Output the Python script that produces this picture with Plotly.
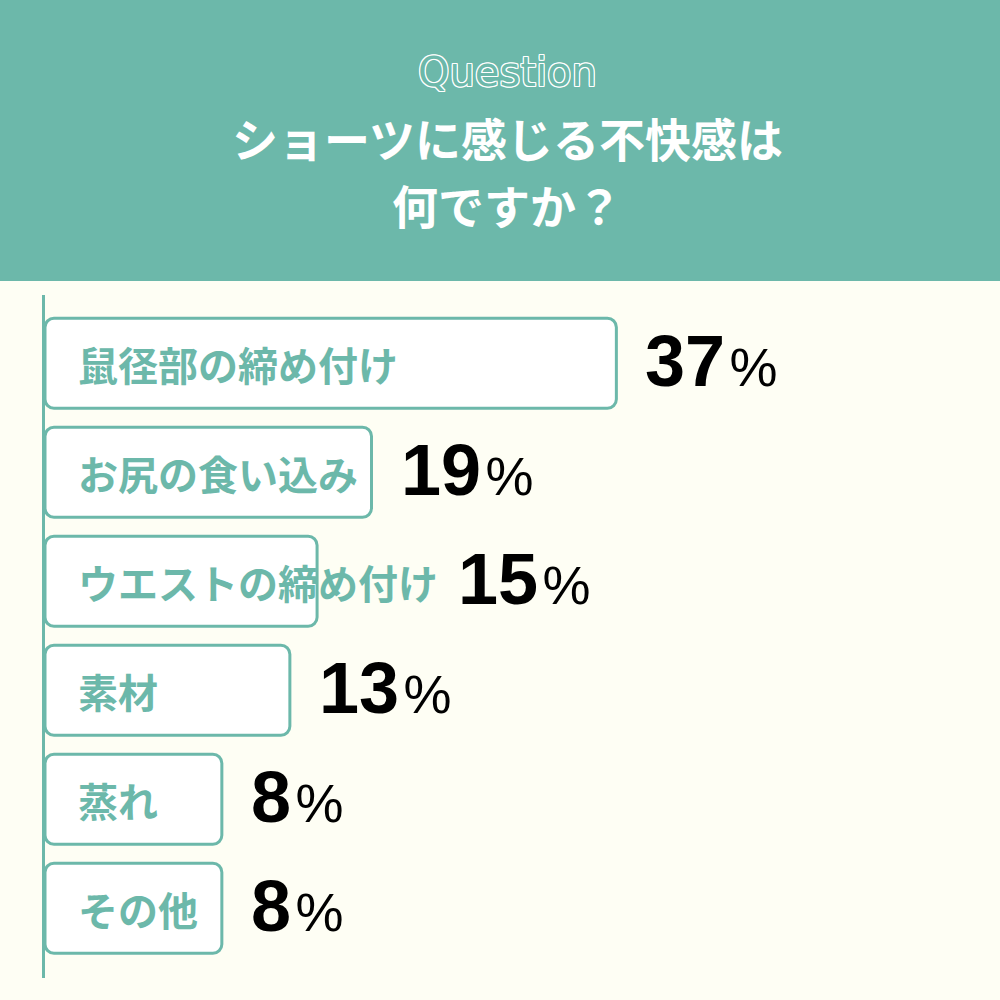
import plotly.graph_objects as go

categories = ["鼠径部の締め付け", "お尻の食い込み", "ウエストの締め付け", "素材", "蒸れ", "その他"]
values = [37, 19, 15, 13, 8, 8]

question_label = "Question"
title_lines = ["ショーツに感じる不快感は", "何ですか？"]

TEAL = "#6cb8aa"
CREAM = "#fefef4"
PAD = 5            # bars start a bit left of zero so short bars fit their labels
X_MAX = 65.2
W, H = 1000, 1000
M_L, M_R, M_T, M_B = 45, 0, 295, 22
plot_h = H - M_T - M_B
plot_w = W - M_L - M_R
px_per_unit = plot_w / (X_MAX + PAD)


def py(p):
    # pixel row from top -> paper y
    return (H - M_B - p) / plot_h


def px(p):
    # pixel column from left -> paper x
    return (p - M_L) / plot_w


fig = go.Figure()
fig.add_trace(go.Bar(
    y=categories,
    x=[v + PAD for v in values],
    base=-PAD,
    orientation="h",
    marker=dict(color="white", line=dict(color=TEAL, width=3), cornerradius=9),
    hoverinfo="skip",
))

pct = "<span style=\"font-size:54px;font-weight:400\">\u200a%</span>"

# labels inside bars and values after them
for cat, v in zip(categories, values):
    fig.add_annotation(x=-PAD, y=cat, xref="x", yref="y", text=f"<b>{cat}</b>",
                       showarrow=False, xanchor="left", xshift=31, yshift=-1,
                       font=dict(family="Noto Sans CJK JP", size=40, color=TEAL))
    bar_end = (v + PAD) * px_per_unit
    label_end = 31 + len(cat) * 40
    shift = max(27, label_end - bar_end + 20)
    fig.add_annotation(x=v, y=cat, xref="x", yref="y",
                       text=f"<b>{v}</b>{pct}",
                       showarrow=False, xanchor="left", xshift=shift, yshift=2,
                       font=dict(family="Liberation Sans", size=72, color="black"))

# header band
fig.add_shape(type="rect", xref="paper", yref="paper", x0=-0.1, x1=1.1,
              y0=py(281), y1=py(-10), fillcolor=TEAL, line_width=0, layer="below")

fig.add_annotation(x=px(507), y=py(72), xref="paper", yref="paper", text=question_label,
                   showarrow=False, xanchor="center", yanchor="middle",
                   font=dict(family="DejaVu Sans", size=40, color=TEAL,
                             shadow="1px 0 0 #fff, -1px 0 0 #fff, 0 1px 0 #fff, 0 -1px 0 #fff, "
                                    "1px 1px 0 #fff, -1px -1px 0 #fff, 1px -1px 0 #fff, -1px 1px 0 #fff"))
for i, line in enumerate(title_lines):
    fig.add_annotation(x=px(507), y=py(137 + i * 67), xref="paper", yref="paper",
                       text=f"<b>{line}</b>", showarrow=False, xanchor="center", yanchor="middle",
                       font=dict(family="Noto Sans CJK JP", size=46, color="white"))

fig.update_layout(
    width=W, height=H,
    margin=dict(l=M_L, r=M_R, t=M_T, b=M_B),
    paper_bgcolor=CREAM, plot_bgcolor=CREAM,
    bargap=0.174,
    showlegend=False,
    xaxis=dict(range=[-PAD, X_MAX], visible=False),
    yaxis=dict(range=[5.64, -0.626], showticklabels=False, ticks="",
               showgrid=False, zeroline=False, showline=True, linecolor=TEAL, linewidth=3),
)

fig.write_html("out.html", config={"displayModeBar": False},
               post_script="document.body.style.margin='0';")
